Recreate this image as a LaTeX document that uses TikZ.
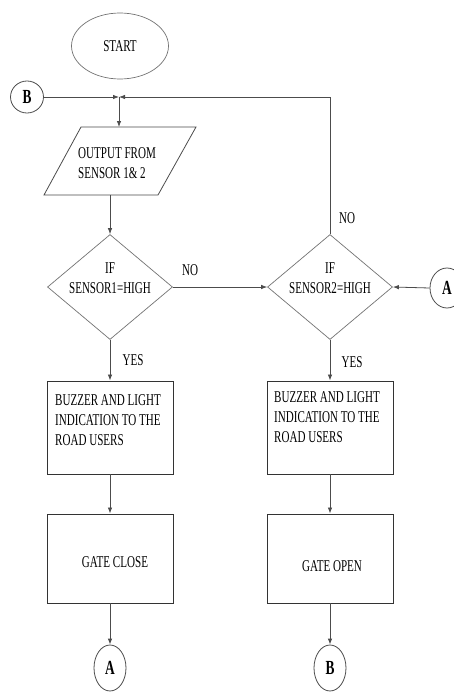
\documentclass[tikz,border=0pt]{standalone}
\usepackage{fontspec}
\setmainfont[FakeStretch=0.67]{Liberation Serif}
\usetikzlibrary{shapes.geometric,arrows.meta}
\begin{document}
\begin{tikzpicture}[x=1pt,y=-1pt,
  line/.style={draw=black!70, line width=0.8pt},
  arr/.style={line, -{Latex[length=6pt,width=4.5pt]}},
  txt/.style={font=\fontsize{16.5}{20}\selectfont, inner sep=0pt, text=black},
  boxn/.style={draw=black!80, line width=0.9pt, minimum width=126pt, minimum height=93pt, inner sep=0pt},
  dia/.style={diamond, draw=black!55, line width=0.7pt, minimum width=125pt, minimum height=105pt, inner sep=0pt, aspect=1.19},
  conn/.style={ellipse, draw=black!70, line width=0.8pt, minimum width=32pt, minimum height=46pt, inner sep=0pt, text=black, font=\bfseries\fontsize{20}{20}\selectfont},
]
\useasboundingbox (0,0) rectangle (453,693);
\fill[white] (0,0) rectangle (453,693);

% start
\node[ellipse, draw=black!55, line width=0.7pt, minimum width=97pt, minimum height=66pt, txt] (start) at (120,46) {START};

% connector B (top left) and junction
\node[conn, minimum width=33pt, minimum height=32pt] (bL) at (27,97) {B};
\coordinate (j) at (119,97);
\coordinate (loop) at (330,97);

% parallelogram
\coordinate (pt) at (119,127);
\coordinate (pb) at (110,195);
\draw[line] (81,127) -- (196,127) -- (158,195) -- (44,195) -- cycle;
\node[txt, align=left, anchor=west] (ptext) at (78,163) {OUTPUT FROM\\SENSOR 1\& 2};

% decisions
\node[dia] (d1) at (110,287) {};
\node[txt, align=center] (d1t) at (110,278) {IF\\SENSOR1=HIGH};
\node[dia] (d2) at (330,287) {};
\node[txt, align=center] (d2t) at (330,278) {IF\\SENSOR2=HIGH};

\node[txt] (no1) at (190,270) {NO};
\node[txt] (no2) at (347,218) {NO};
\node[txt] (yes1) at (133,360) {YES};
\node[txt] (yes2) at (352,362) {YES};

\node[conn, minimum width=34pt, minimum height=40pt] (aR) at (447,288) {A};

% boxes
\node[boxn] (b1) at (110,427.5) {};
\node[txt, align=left, anchor=west] (b1t) at (55,420) {BUZZER AND LIGHT\\INDICATION TO THE\\ROAD USERS};
\node[boxn] (b2) at (330,427.5) {};
\node[txt, align=left, anchor=west] (b2t) at (274,417) {BUZZER AND LIGHT\\INDICATION TO THE\\ROAD USERS};
\node[boxn, minimum height=89pt] (g1) at (110,558.5) {};
\node[txt] (g1t) at (115,562) {GATE CLOSE};
\node[boxn, minimum height=89pt] (g2) at (330,558.5) {};
\node[txt] (g2t) at (332,566) {GATE OPEN};

\node[conn] (aB) at (110,668) {A};
\node[conn] (bB) at (330,668) {B};

% connectors
\draw[arr] (bL.east) -- (j);
\draw[arr] (d2.north) -- (loop) -- (j);
\draw[arr] (j) -- (pt);
\draw[arr] (pb) -- (d1.north);
\draw[arr] (d1.east) -- (d2.west);
\draw[arr] (aR.west) -- (d2.east);
\draw[arr] (d1.south) -- (b1.north);
\draw[arr] (d2.south) -- (b2.north);
\draw[arr] (b1.south) -- (g1.north);
\draw[arr] (b2.south) -- (g2.north);
\draw[arr] (g1.south) -- (aB.north);
\draw[arr] (g2.south) -- (bB.north);
\end{tikzpicture}
\end{document}
